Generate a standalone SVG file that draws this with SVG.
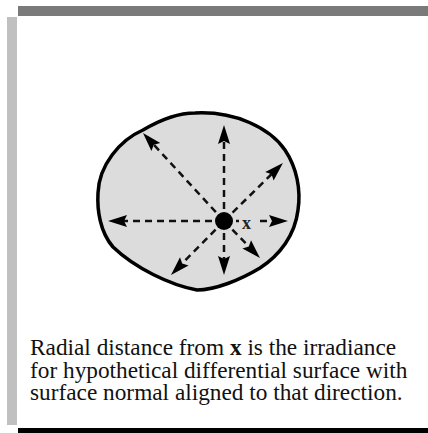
<svg xmlns="http://www.w3.org/2000/svg" width="428" height="433" viewBox="0 0 428 433">
<style>
.ray{stroke:#111;stroke-width:2.5;stroke-dasharray:7 5;fill:none;marker-end:url(#head)}
.cap{font-family:"Liberation Serif","Times New Roman",serif;font-size:23.3px;fill:#111}
</style>
<defs>
<marker id="head" markerUnits="userSpaceOnUse" markerWidth="40" markerHeight="40" refX="0" refY="0" orient="auto" overflow="visible">
<path d="M-7,-6 L12,0 L-7,6 L-4,0 Z" fill="#000" stroke="none"/>
</marker>
</defs>
<rect width="428" height="433" fill="#fff"/>
<g id="frame">
<rect x="18" y="6" width="410" height="10" fill="#7a7a7a"/>
<rect x="7" y="17" width="10" height="408" fill="#c0c0c0"/>
<rect x="18" y="428" width="410" height="5" fill="#000"/>
</g>
<g id="blob">
<path d="M195,113 C235,111 270,128 285,150 C297,168 301,190 298,210 C295,235 280,255 260,268 C240,280 215,290 197,290 C170,285 135,268 113,247 C100,232 97,210 98,193 C99,165 120,140 143,130 C160,120 178,113 195,113 Z" fill="#dcdcdc" stroke="#000" stroke-width="3.5"/>
</g>
<g id="connectors">
<line class="ray" x1="224" y1="221" x2="224" y2="137"/>
<line class="ray" x1="224" y1="221" x2="274.4" y2="171.4"/>
<line class="ray" x1="224" y1="221" x2="276" y2="221"/>
<line class="ray" x1="224" y1="221" x2="251.6" y2="249.4"/>
<line class="ray" x1="224" y1="221" x2="224" y2="263"/>
<line class="ray" x1="224" y1="221" x2="179.4" y2="266.4"/>
<line class="ray" x1="224" y1="221" x2="120" y2="221"/>
<line class="ray" x1="224" y1="221" x2="151.1" y2="141.8"/>
</g>
<g id="point-x">
<circle cx="224" cy="221" r="9" fill="#000"/>
<rect x="239" y="217" width="16" height="13" fill="#dcdcdc"/>
<text x="242" y="229" font-family="Liberation Serif, serif" font-weight="bold" font-size="18" fill="#222">x</text>
</g>
<g id="caption">
<text class="cap" x="30" y="355">Radial distance from <tspan font-weight="bold">x</tspan> is the irradiance</text>
<text class="cap" x="30" y="377.5">for hypothetical differential surface with</text>
<text class="cap" x="30" y="400">surface normal aligned to that direction.</text>
</g>
</svg>
